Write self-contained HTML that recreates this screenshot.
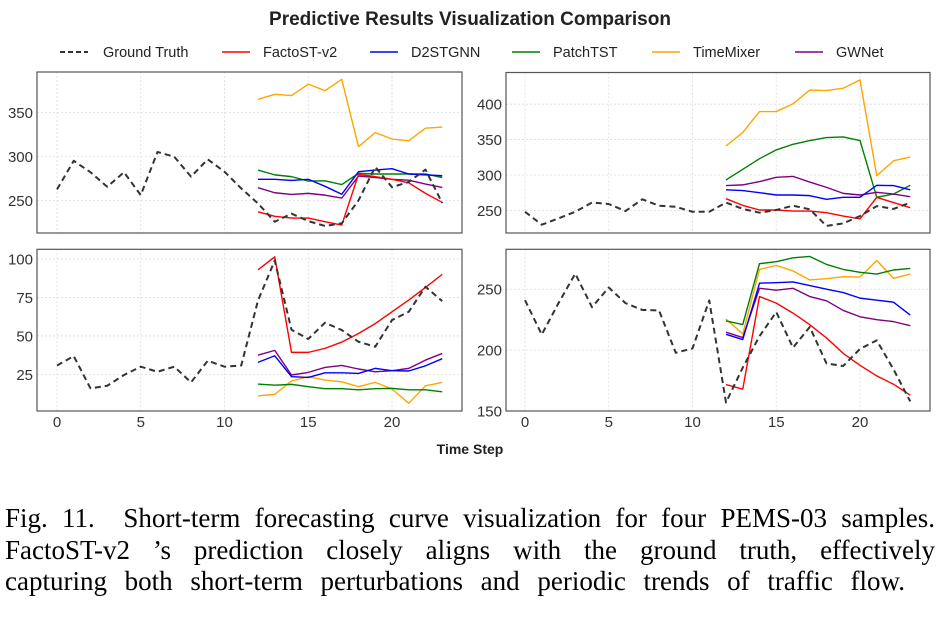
<!DOCTYPE html>
<html><head><meta charset="utf-8">
<style>
html,body{margin:0;padding:0;background:#fff;}
body{width:950px;height:620px;position:relative;overflow:hidden;font-family:"Liberation Sans",sans-serif;}
#cap{position:absolute;left:5px;top:503px;width:930px;font-family:"Liberation Serif",serif;font-size:27px;color:#000;}
#cap div{text-align:justify;text-align-last:justify;white-space:nowrap;height:31.5px;line-height:31.5px;}
</style></head>
<body>
<svg id="chart" width="950" height="470" style="position:absolute;left:0;top:0" xmlns="http://www.w3.org/2000/svg">
<text x="470" y="25" text-anchor="middle" font-family="Liberation Sans, sans-serif" font-weight="bold" font-size="19" fill="#222">Predictive Results Visualization Comparison</text>
<text x="470" y="454" text-anchor="middle" font-family="Liberation Sans, sans-serif" font-weight="bold" font-size="14" fill="#222">Time Step</text>
<g id="legend"></g>
<g id="panels"></g>
</svg>
<div id="cap">
<div>Fig. 11.&nbsp; Short-term forecasting curve visualization for four PEMS-03 samples.</div>
<div>FactoST-v2 ’s prediction closely aligns with the ground truth, effectively</div>
<div style="width:900px">capturing both short-term perturbations and periodic trends of traffic flow.</div>
</div>
<script>
const seriesNames = ["Ground Truth","FactoST-v2","D2STGNN","PatchTST","TimeMixer","GWNet"];
const seriesColors = ["#333","#ff0000","#0000ff","#008000","#ffa500","#800080"];
const steps = [0,1,2,3,4,5,6,7,8,9,10,11,12,13,14,15,16,17,18,19,20,21,22,23];
const xTicks = [0,5,10,15,20];

const p1GT = [262.5,295,282,265.5,282,256,305,299.6,277,296.6,282.6,263.6,246.6,225.8,235,226.5,221,224,250,288,265,271,285,247];
const p1Red = [237,232,230,230,225.8,222,279.5,277,274,270,258,247.7];
const p1Blue = [274,274,272.7,274,266,257,282.6,284.5,286,280,279,278];
const p1Green = [284.5,279,277,272,272.3,268,280.7,280,280,280,280,276];
const p1Orange = [364.8,370.5,369,382,374.6,387.5,311,327,319.7,317.8,332,333.3];
const p1Purple = [264.4,258.7,256.8,258,256,252.6,277.6,276,274,273,268.6,264.8];
const p1YTicks = [250,300,350];

const p2GT = [248,229.7,238.7,248,261,259,249,265.6,256.6,255,248,248,261,252,246.7,250.5,256.6,251.4,228,231.6,242,256,252,261];
const p2Red = [266.5,257,250.5,250.5,249,249,246.7,242,238,268.4,261,253.8];
const p2Blue = [279,278,275,271.7,271.7,270.8,265.6,268.4,268.4,285.4,285,279];
const p2Green = [293,308,323,335.4,343.4,348.6,352.8,353.8,348.6,268.4,273,285.4];
const p2Orange = [341,360,389.6,389.6,400.5,420,419.3,422.6,434.4,299,320,325.5];
const p2Purple = [285,286,290.6,296.7,298,290,282.5,274,271.7,275.5,273,269.3];
const p2YTicks = [250,300,350,400];

const p3GT = [30.8,36.9,15.9,17.6,24.6,30,26.7,30,19.8,33.9,30,30.8,73,99,54,48,58.6,53.8,46.2,43,60.3,65.7,82,72.6];
const p3Red = [93,101.4,39.3,39.3,41.9,46,51.6,58,65.7,73.3,81.5,90];
const p3Blue = [32.8,37.1,23.5,23,26,26,25.6,28.9,27.4,27.2,30.6,35.2];
const p3Green = [18.7,18,18.5,17,15.7,15.7,15,15.7,15.9,15,15,13.7];
const p3Orange = [11.1,12,20.7,23.5,21.3,20.2,17,19.8,15.5,6.2,17.6,19.8];
const p3Purple = [37.5,40.6,24.6,26.3,29.5,30.8,28.5,26.7,27.4,28.9,34.3,38.6];
const p3YTicks = [25,50,75,100];

const p4GT = [241,212.8,238.6,262.8,235.3,251.4,238.6,233,232.6,197.8,201.4,240.8,157,185.6,211.4,231.3,202,219,189,187,201,208,184.2,157.9];
const p4Red = [171.7,167.9,244,238.6,230.4,220.9,210,197.3,187.5,178.8,172,163];
const p4Blue = [213,208.7,255,255.4,256,253,250,247.3,242.7,241,239.4,228.8];
const p4Green = [224,221,271,272.6,275.8,276.9,270.4,266.3,263.9,262.5,265.8,267.1];
const p4Orange = [225.5,213.3,266.3,269.6,265,257.6,258.7,260.3,260,273.6,259,262.5];
const p4Purple = [214.7,210.3,250.8,249.2,250.8,244,240.5,232.6,227.4,225,223.4,220.1];
const p4YTicks = [150,200,250];

const NS="http://www.w3.org/2000/svg";
function mk(tag,attrs,parent){const e=document.createElementNS(NS,tag);for(const k in attrs)e.setAttribute(k,attrs[k]);parent.appendChild(e);return e;}

const leg=document.getElementById('legend');
const legX=[60,222,370,512,652,795];
seriesNames.forEach((n,i)=>{
  const ln=mk('line',{x1:legX[i],x2:legX[i]+28,y1:52,y2:52,stroke:seriesColors[i],'stroke-width':i==0?2:1.5},leg);
  if(i==0)ln.setAttribute('stroke-dasharray','5,3');
  
  
  const t=mk('text',{x:legX[i]+(i==0?43:41),y:57,'font-size':14.5,fill:'#222','font-family':'Liberation Sans, sans-serif'},leg);
  t.textContent=n;
  
  
});

const panels=[
 {name:'panel-top-left',x0:37,x1:462,y0:72,y1:233,zeroX:57,vmin:213,vmax:395.8,ticks:p1YTicks,xlab:false,data:[p1GT,p1Red,p1Blue,p1Green,p1Orange,p1Purple]},
 {name:'panel-top-right',x0:506,x1:930,y0:72.5,y1:233,zeroX:525,vmin:218,vmax:444.8,ticks:p2YTicks,xlab:false,data:[p2GT,p2Red,p2Blue,p2Green,p2Orange,p2Purple]},
 {name:'panel-bottom-left',x0:37,x1:462,y0:249.3,y1:411,zeroX:57,vmin:1.2,vmax:106.3,ticks:p3YTicks,xlab:true,data:[p3GT,p3Red,p3Blue,p3Green,p3Orange,p3Purple]},
 {name:'panel-bottom-right',x0:506,x1:930,y0:249.3,y1:411,zeroX:525,vmin:150,vmax:282.8,ticks:p4YTicks,xlab:true,data:[p4GT,p4Red,p4Blue,p4Green,p4Orange,p4Purple]}
];
const step=16.75;
const root=document.getElementById('panels');
panels.forEach(p=>{
  const g=mk('g',{},root);
  
  
  const xs=v=>p.zeroX+v*step;
  const ys=v=>p.y1-(v-p.vmin)/(p.vmax-p.vmin)*(p.y1-p.y0);
  xTicks.forEach(t=>{
    const l=mk('line',{x1:xs(t),x2:xs(t),y1:p.y0,y2:p.y1,stroke:'#ddd','stroke-width':0.8,'stroke-dasharray':'2,2'},g);
    
    
    if(p.xlab){
      const tx=mk('text',{x:xs(t),y:427,'text-anchor':'middle','font-size':15,fill:'#333','font-family':'Liberation Sans, sans-serif'},g);
      tx.textContent=t;
      
      
    }
  });
  p.ticks.forEach(t=>{
    const l=mk('line',{x1:p.x0,x2:p.x1,y1:ys(t),y2:ys(t),stroke:'#ddd','stroke-width':0.8,'stroke-dasharray':'2,2'},g);
    
    
    const tx=mk('text',{x:p.x0-4,y:ys(t)+5.5,'text-anchor':'end','font-size':15,fill:'#333','font-family':'Liberation Sans, sans-serif'},g);
    tx.textContent=t;
    
    
  });
  const clip='clip-'+p.name;
  const cp=mk('clipPath',{id:clip},g);
  mk('rect',{x:p.x0,y:p.y0,width:p.x1-p.x0,height:p.y1-p.y0},cp);
  const order=[4,3,5,2,1,0];
  order.forEach(si=>{
    const arr=p.data[si];
    const off=si==0?0:12;
    const pts=arr.map((v,i)=>xs(steps[i+off])+','+ys(v).toFixed(2)).join(' ');
    const pl=mk('polyline',{points:pts,fill:'none',stroke:seriesColors[si],'stroke-width':si==0?2:1.4,'stroke-linejoin':'round','clip-path':'url(#'+clip+')'},g);
    if(si==0)pl.setAttribute('stroke-dasharray','6,4');
    
    
  });
  const b=mk('rect',{x:p.x0,y:p.y0,width:p.x1-p.x0,height:p.y1-p.y0,fill:'none',stroke:'#555','stroke-width':1.2},g);
  
  
});
</script>
</body></html>
